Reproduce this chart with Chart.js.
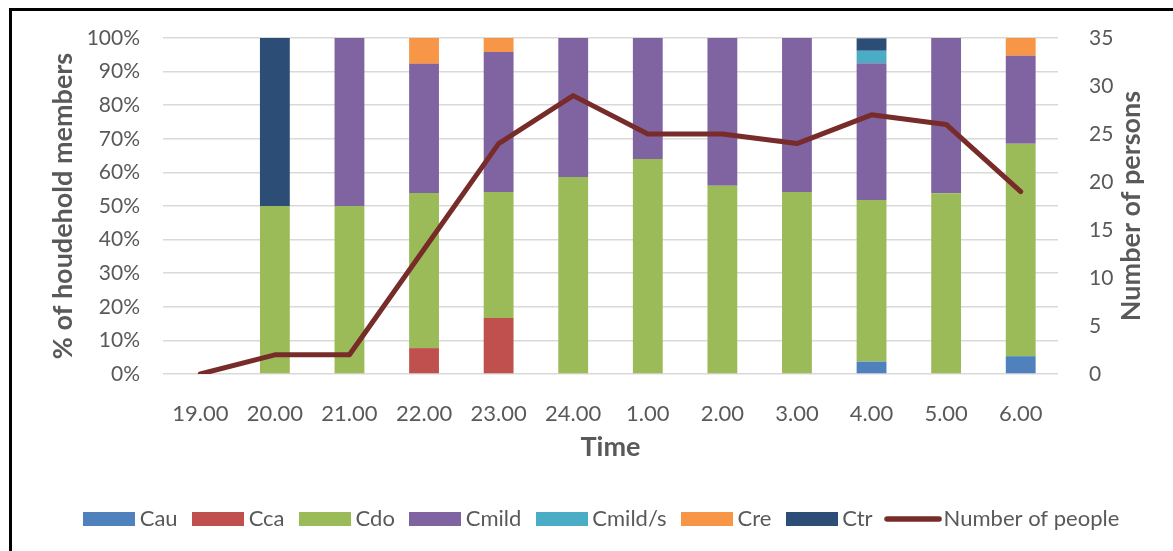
<!DOCTYPE html>
<html>
<head>
<meta charset="utf-8">
<script src="https://cdn.jsdelivr.net/npm/chart.js@4.4.0/dist/chart.umd.min.js"></script>
<style>
  html, body { margin: 0; padding: 0; background: #fff; overflow: hidden; }
  #wrap { position: relative; width: 1173px; height: 551px; }
  #frame { position: absolute; left: 9px; top: 8px; width: 1200px; height: 600px;
           border: 3px solid #000; box-sizing: border-box; pointer-events: none; }
  canvas { position: absolute; left: 0; top: 0; }
</style>
</head>
<body>
<div id="wrap">
  <canvas id="chart" width="1173" height="551"></canvas>
  <div id="frame"></div>
</div>
<script>
// Hour of the night
const timeLabels = ['19.00', '20.00', '21.00', '22.00', '23.00', '24.00', '1.00', '2.00', '3.00', '4.00', '5.00', '6.00'];

// Share of household members per category (%)
const cau    = [null, 0,  0,  0,    0,    0,    0,  0,  0,    3.7,  0,    5.3];
const cca    = [null, 0,  0,  7.7,  16.7, 0,    0,  0,  0,    0,    0,    0];
const cdo    = [null, 50, 50, 46.2, 37.5, 58.6, 64, 56, 54.2, 48.1, 53.8, 63.2];
const cmild  = [null, 0,  50, 38.4, 41.6, 41.4, 36, 44, 45.8, 40.7, 46.2, 26.2];
const cmildS = [null, 0,  0,  0,    0,    0,    0,  0,  0,    3.7,  0,    0];
const cre    = [null, 0,  0,  7.7,  4.2,  0,    0,  0,  0,    0,    0,    5.3];
const ctr    = [null, 50, 0,  0,    0,    0,    0,  0,  0,    3.7,  0,    0];

// Number of people present
const people = [0, 2, 2, 13, 24, 29, 25, 25, 24, 27, 26, 19];

// Axis tick settings
const pctTicks = { min: 0, max: 100, step: 10 };
const personTicks = { min: 0, max: 35, step: 5 };

const FONT = 'Lato, "Open Sans", sans-serif';
const TEXT = '#595959';
const LINE = '#772C2A';

const barSeries = [
  { label: 'Cau',     data: cau,    color: '#4F81BD' },
  { label: 'Cca',     data: cca,    color: '#C0504D' },
  { label: 'Cdo',     data: cdo,    color: '#9BBB59' },
  { label: 'Cmild',   data: cmild,  color: '#8064A2' },
  { label: 'Cmild/s', data: cmildS, color: '#4BACC6' },
  { label: 'Cre',     data: cre,    color: '#F79646' },
  { label: 'Ctr',     data: ctr,    color: '#2C4D75' }
];

// Legend swatches: wide colour boxes and a thick rounded line
function boxSwatch(color) {
  const c = document.createElement('canvas');
  c.width = 52; c.height = 14;
  const g = c.getContext('2d');
  g.fillStyle = color;
  g.fillRect(0, 0, 52, 14);
  return c;
}
function lineSwatch(color) {
  const c = document.createElement('canvas');
  c.width = 58; c.height = 6;
  const g = c.getContext('2d');
  g.strokeStyle = color;
  g.lineWidth = 5.5;
  g.lineCap = 'round';
  g.beginPath();
  g.moveTo(3, 3);
  g.lineTo(55, 3);
  g.stroke();
  return c;
}

const datasets = barSeries.map(s => ({
  type: 'bar',
  label: s.label,
  data: s.data,
  backgroundColor: s.color,
  borderWidth: 0,
  yAxisID: 'y',
  stack: 'share',
  order: 1,
  categoryPercentage: 1,
  barPercentage: 0.4
}));
datasets.push({
  type: 'line',
  label: 'Number of people',
  data: people,
  borderColor: LINE,
  backgroundColor: LINE,
  borderWidth: 5,
  borderCapStyle: 'round',
  borderJoinStyle: 'round',
  pointRadius: 0,
  tension: 0,
  fill: false,
  yAxisID: 'y1',
  order: 0
});

// Right-hand axis title, reading bottom to top
const rightTitle = {
  id: 'rightTitle',
  afterDraw(chart) {
    const s = chart.scales.y1;
    const ctx = chart.ctx;
    ctx.save();
    ctx.translate(s.right - 42, (s.top + s.bottom) / 2);
    ctx.rotate(-Math.PI / 2);
    ctx.font = 'bold 27px ' + FONT;
    ctx.fillStyle = TEXT;
    ctx.textAlign = 'center';
    ctx.textBaseline = 'middle';
    ctx.fillText('Number of persons', 0, 0);
    ctx.restore();
  }
};

new Chart(document.getElementById('chart'), {
  data: { labels: timeLabels, datasets },
  plugins: [rightTitle],
  options: {
    responsive: false,
    animation: false,
    layout: { padding: { left: 36, right: 0, top: 38, bottom: 11 } },
    plugins: {
      tooltip: { enabled: false },
      legend: {
        position: 'bottom',
        labels: {
          usePointStyle: true,
          pointStyleWidth: 39,
          boxHeight: 14,
          padding: 21,
          color: TEXT,
          font: { family: FONT, size: 22 },
          sort: (a, b) => a.datasetIndex - b.datasetIndex,
          generateLabels(chart) {
            const items = Chart.defaults.plugins.legend.labels.generateLabels(chart);
            items.forEach(it => {
              const ds = chart.data.datasets[it.datasetIndex];
              it.pointStyle = ds.type === 'line' ? lineSwatch(LINE) : boxSwatch(ds.backgroundColor);
            });
            return items;
          }
        }
      }
    },
    scales: {
      x: {
        stacked: true,
        grid: { display: false },
        border: { display: false },
        ticks: { color: TEXT, font: { family: FONT, size: 22 }, padding: 19, maxRotation: 0 },
        title: { display: true, text: 'Time', color: TEXT,
                 font: { family: FONT, size: 27, weight: 'bold' }, padding: { top: 0, bottom: 24 } },
        afterFit(s) { s.height = 113; }
      },
      y: {
        stacked: true,
        position: 'left',
        min: pctTicks.min,
        max: pctTicks.max,
        grid: { color: '#D9D9D9', lineWidth: 1.5, drawTicks: false },
        border: { display: false },
        ticks: { stepSize: pctTicks.step, color: TEXT, font: { family: FONT, size: 21 }, padding: 23,
                 callback: v => v + '%' },
        title: { display: true, text: '% of houdehold members', color: TEXT,
                 font: { family: FONT, size: 27, weight: 'bold' }, padding: { top: 11, bottom: 0 } },
        afterFit(s) { s.width = 127; }
      },
      y1: {
        position: 'right',
        min: personTicks.min,
        max: personTicks.max,
        grid: { display: false },
        border: { display: false },
        ticks: { stepSize: personTicks.step, color: TEXT, font: { family: FONT, size: 21 }, padding: 23 },
        afterFit(s) { s.width = 115; }
      }
    }
  }
});
</script>
</body>
</html>
